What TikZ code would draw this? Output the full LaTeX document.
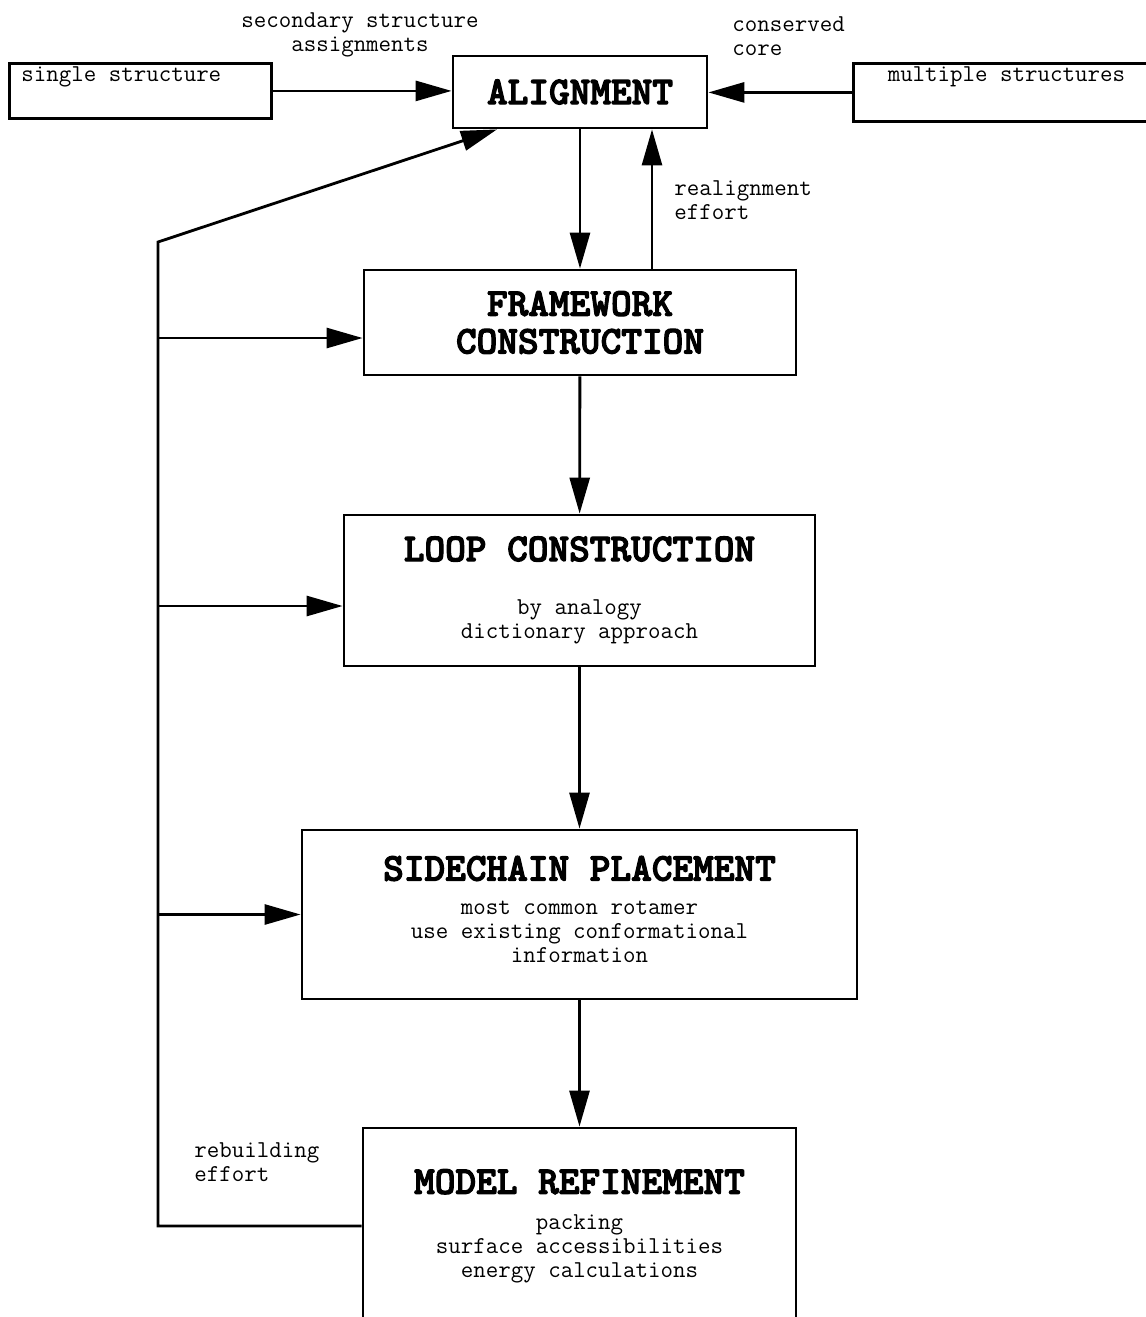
\documentclass[tikz,border=0pt]{standalone}
\usepackage{fontspec}
\usetikzlibrary{arrows.meta}
\newfontfamily\tbold{lmmonolt10-bold.otf}[FakeBold=3]
\newcommand{\titlefont}{\tbold\fontsize{22.4}{21.5}\selectfont}
\newcommand{\smallfont}{\ttfamily\fontsize{13.8}{13.66}\selectfont}
\begin{document}
\begin{tikzpicture}[auto, line width=1.6pt, >={Triangle[length=0.72cm,width=0.4cm]},
    box/.style={draw, rectangle, align=center, inner sep=0pt},
    lbl/.style={font=\smallfont, inner sep=0pt}]
    \useasboundingbox (0, 0) rectangle (22.92, -26.34);
    \clip (0, 0) rectangle (22.92, -26.34);
    \node [box, anchor=north west, inner xsep=0.24cm, inner ysep=0.12cm, text height=0.25cm, text depth=0.61cm, font=\smallfont] (single) at (0.16, -1.24) {\makebox[4.76cm][l]{single structure}};
    \node [box, anchor=north west, inner xsep=0.24cm, inner ysep=0.12cm, text height=0.25cm, text depth=0.67cm, font=\smallfont] (multi) at (17.04, -1.24) {\makebox[5.64cm]{multiple structures}};
    \node [box, minimum width=5.08cm, minimum height=1.44cm, font=\titlefont] (align) at (11.6, -1.84) {ALIGNMENT};
    \node [box, minimum width=8.64cm, minimum height=2.1cm, font=\titlefont] (frame) at (11.6, -6.45) {FRAMEWORK\\CONSTRUCTION};
    \node [box, minimum width=9.42cm, minimum height=3.02cm, font=\smallfont] (loop) at (11.59, -11.81) {{\titlefont LOOP CONSTRUCTION}\\[17pt]by analogy\\dictionary approach};
    \node [box, minimum width=11.1cm, minimum height=3.38cm, font=\smallfont] (side) at (11.59, -18.29) {{\titlefont SIDECHAIN PLACEMENT}\\[5.6pt]most common rotamer\\use existing conformational\\information\rule[-6pt]{0pt}{0pt}};
    \node [box, minimum width=8.66cm, minimum height=3.92cm, font=\smallfont] (model) at (11.59, -24.52) {{\titlefont MODEL REFINEMENT}\\[6.5pt]packing\\surface accessibilities\\energy calculations\rule[-3pt]{0pt}{0pt}};
    \node [lbl, align=center] (sec) at (7.2, -0.70) {secondary structure\\assignments};
    \node [lbl, align=left, anchor=west] (core) at (14.62, -0.72) {conserved\\core};
    \node [lbl, align=left, anchor=west] (realign) at (13.46, -4.0) {realignment\\effort};
    \node [lbl, align=left, anchor=west] (rebuild) at (3.86, -23.24) {rebuilding\\effort};
    \draw [->] (single.east) -- (single.east -| align.west);
    \draw [->] (multi.west) -- (multi.west -| align.east);
    \draw [->] (align) -- (frame);
    \draw [->] ([xshift=1.44cm]frame.north) -- ([xshift=1.44cm]align.south);
    \draw [->] (frame) -- (loop);
    \draw [->] (loop) -- (side);
    \draw [->] (side) -- (model);
    % rebuilding loop
    \coordinate (turn) at (3.16, -4.84);
    \coordinate (fin) at ([yshift=-0.31cm]frame.west);
    \coordinate (lin) at ([yshift=-0.31cm]loop.west);
    \draw [->] (model.west) -| (turn) -- ([xshift=-1.66cm]align.south);
    \draw [->] (turn |- fin) -- (fin);
    \draw [->] (turn |- lin) -- (lin);
    \draw [->] (turn |- side.west) -- (side.west);
\end{tikzpicture}
\end{document}
